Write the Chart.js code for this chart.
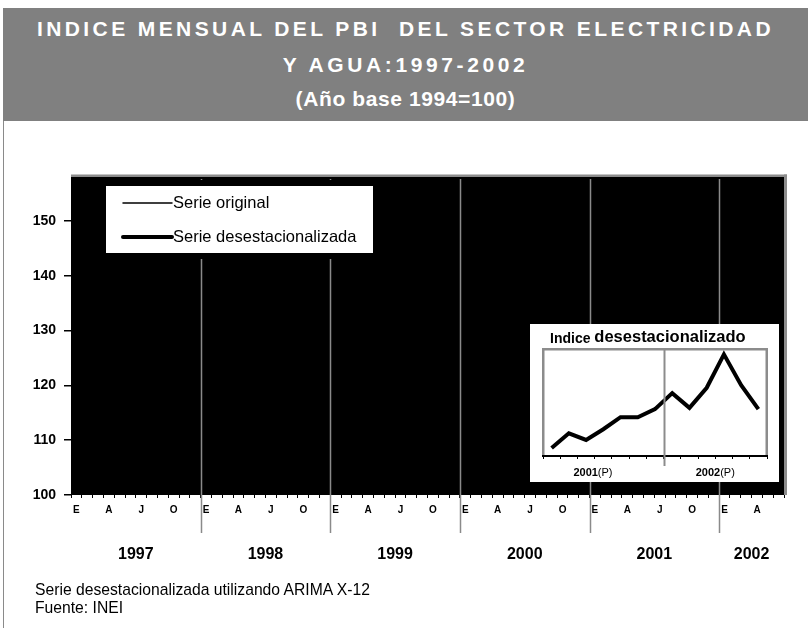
<!DOCTYPE html>
<html><head><meta charset="utf-8">
<script src="https://cdn.jsdelivr.net/npm/chart.js@4/dist/chart.umd.min.js"></script>
<style>
html,body{margin:0;padding:0;background:#fff;width:808px;height:628px;overflow:hidden;font-family:"Liberation Sans",Arial,sans-serif;}
#frame{position:absolute;left:3px;top:8px;width:830px;height:650px;border-left:1.5px solid #8a8a8a;border-top:1.5px solid #9a9a9a;box-sizing:border-box;}
#header{position:absolute;left:3px;top:8px;width:805px;height:113px;background:#808080;}
.t{position:absolute;left:0;width:100%;text-align:center;color:#fff;font-weight:bold;white-space:pre;font-size:21px;line-height:24px;}
#t1{top:9px;letter-spacing:3.4px;}
#t2{top:45px;letter-spacing:3.6px;}
#t3{top:79px;letter-spacing:0.6px;}
#main{position:absolute;left:0;top:0;}
#inset{position:absolute;left:530px;top:324px;background:#fff;}
.note{position:absolute;left:35px;font-size:15.7px;line-height:18px;color:#000;white-space:pre;}
</style></head>
<body>
<div id="frame"></div>
<div id="header">
  <div class="t" id="t1">INDICE MENSUAL DEL PBI  DEL SECTOR ELECTRICIDAD</div>
  <div class="t" id="t2">Y AGUA:1997-2002</div>
  <div class="t" id="t3">(Año base 1994=100)</div>
</div>
<canvas id="main" width="808" height="628"></canvas>
<canvas id="inset" width="249" height="158"></canvas>
<div class="note" style="top:581px">Serie desestacionalizada utilizando ARIMA X-12</div>
<div class="note" style="top:599px">Fuente: INEI</div>
<script>
// ---------- data ----------
const monthLetters = ['E','F','M','A','M','J','J','A','S','O','N','D'];
const yearLabels = ['1997','1998','1999','2000','2001','2002'];
const monthsInYear = [12,12,12,12,12,6];
const yMin = 100, yMax = 158, yStep = 10;
const seriesNames = ['Serie original','Serie desestacionalizada'];
// main-chart lines are black on a black plot area and cannot be read;
// only the deseasonalised tail shown in the inset is known
const serieOriginal = [];
const insetTitleSmall = 'Indice';
const insetTitleBig = 'desestacionalizado';
const insetMonths = ['J','J','A','S','O','N','D','E','F','M','A','M','J'];
const insetYears = ['2001','2002'];
const insetValues = [130.6,131.7,131.2,132.0,132.9,132.9,133.5,134.7,133.6,135.1,137.6,135.3,133.5];
const insetYMin = 130, insetYMax = 138;

// ---------- build ----------
const FAM = '"Liberation Sans", Arial, sans-serif';
const mainLabels = [];
const yearStarts = [];
yearLabels.forEach((y, k) => {
  yearStarts.push(mainLabels.length);
  for (let m = 0; m < monthsInYear[k]; m++) mainLabels.push(monthLetters[m] + ' ' + y);
});
const serieDesest = new Array(mainLabels.length - insetValues.length).fill(null).concat(insetValues);

const bgPlugin = {
  id: 'bg',
  beforeDraw(chart) {
    const {ctx, chartArea: {left, top, right, bottom}} = chart;
    ctx.save();
    ctx.fillStyle = '#000';
    ctx.fillRect(left, top, right - left, bottom - top);
    ctx.fillStyle = '#8c8c8c';
    ctx.fillRect(left, top - 2.5, right - left + 3, 2.5);
    ctx.fillRect(right, top - 2.5, 3, bottom - top + 2.5);
    ctx.restore();
  }
};

const overlayPlugin = {
  id: 'overlay',
  afterDraw(chart) {
    const {ctx, chartArea: {left, top, right, bottom}, scales: {x}} = chart;
    ctx.save();
    // year separators
    ctx.strokeStyle = '#8a8a8a';
    ctx.lineWidth = 1.5;
    yearStarts.forEach((s, k) => {
      if (k === 0) return;
      const px = Math.round(x.getPixelForValue(s - 0.5)) + 0.5;
      ctx.beginPath(); ctx.moveTo(px, top + 2); ctx.lineTo(px, bottom + 38); ctx.stroke();
    });
    // legend box
    const bx = left + 35, by = top + 9, bw = 267, bh = 67;
    ctx.fillStyle = '#000';
    ctx.fillRect(bx - 6, by - 6, bw + 12, bh + 12);
    ctx.fillStyle = '#fff';
    ctx.fillRect(bx, by, bw, bh);
    ctx.font = '16.5px ' + FAM;
    ctx.textBaseline = 'middle';
    ctx.textAlign = 'left';
    chart.data.datasets.forEach((ds, i) => {
      const ly = by + 17 + i * 34;
      ctx.strokeStyle = '#000';
      ctx.lineWidth = ds.borderWidth;
      ctx.lineCap = 'round';
      ctx.beginPath(); ctx.moveTo(bx + 17, ly); ctx.lineTo(bx + 66, ly); ctx.stroke();
      ctx.fillStyle = '#000';
      ctx.fillText(ds.label, bx + 67, ly);
    });
    // year labels
    ctx.font = 'bold 16px ' + FAM;
    ctx.textAlign = 'center';
    ctx.fillStyle = '#000';
    yearLabels.forEach((y, k) => {
      const c = yearStarts[k] + (monthsInYear[k] - 1) / 2;
      ctx.fillText(y, x.getPixelForValue(c), bottom + 60);
    });
    ctx.restore();
  }
};

new Chart(document.getElementById('main'), {
  type: 'line',
  data: {
    labels: mainLabels,
    datasets: [
      {label: seriesNames[0], data: serieOriginal, borderColor: '#000', borderWidth: 1.5, pointRadius: 0, tension: 0},
      {label: seriesNames[1], data: serieDesest, borderColor: '#000', borderWidth: 4, pointRadius: 0, tension: 0}
    ]
  },
  options: {
    responsive: false, animation: false, events: [],
    layout: {padding: {left: 0, top: 177, right: 24, bottom: 103}},
    plugins: {legend: {display: false}, tooltip: {enabled: false}, title: {display: false}},
    scales: {
      x: {
        offset: true,
        grid: {offset: true, drawOnChartArea: false, drawTicks: true, tickLength: 3, color: '#000', lineWidth: 1},
        border: {display: false},
        ticks: {autoSkip: false, maxRotation: 0, minRotation: 0, padding: 6, color: '#000',
          font: {size: 10, weight: 'bold', family: FAM},
          callback: (v, i) => (i % 3 === 0 ? monthLetters[i % 12] : '')},
        afterFit: s => { s.height = 30; }
      },
      y: {
        min: yMin, max: yMax,
        ticks: {stepSize: yStep, includeBounds: false, color: '#000', padding: 8, font: {size: 14, weight: 'bold', family: FAM}},
        grid: {drawOnChartArea: false, tickLength: 7, color: '#000', lineWidth: 1.5},
        border: {display: false},
        afterFit: s => { s.width = 71; }
      }
    }
  },
  plugins: [bgPlugin, overlayPlugin]
});

const insetPlugin = {
  id: 'insetDeco',
  beforeDraw(chart) {
    const {ctx, chartArea: {left, top, right, bottom}} = chart;
    ctx.save();
    ctx.fillStyle = '#8c8c8c';
    ctx.fillRect(left - 1, top - 1, right - left + 2, 2.5);
    ctx.fillRect(left - 1, top - 1, 2.5, bottom - top + 1);
    ctx.fillRect(right - 1.5, top - 1, 2.5, bottom - top + 1);
    ctx.restore();
  },
  afterDraw(chart) {
    const {ctx, chartArea: {left, top, right, bottom}, scales: {x}} = chart;
    ctx.save();
    const sx = Math.round(x.getPixelForValue(insetMonths.indexOf('D') + 0.5)) + 0.5;
    ctx.strokeStyle = '#8c8c8c';
    ctx.lineWidth = 2;
    ctx.beginPath(); ctx.moveTo(sx, top); ctx.lineTo(sx, bottom + 10); ctx.stroke();
    // title
    ctx.fillStyle = '#000';
    ctx.textBaseline = 'middle';
    ctx.textAlign = 'left';
    ctx.font = 'bold 14px ' + FAM;
    ctx.fillText(insetTitleSmall, left + 7, top - 10);
    const w1 = ctx.measureText(insetTitleSmall + ' ').width;
    ctx.font = 'bold 16.5px ' + FAM;
    ctx.fillText(insetTitleBig, left + 7 + w1, top - 12);
    // year labels
    const pos = [2.4, 9.5];
    const fs = 11;
    insetYears.forEach((y, k) => {
      ctx.font = 'bold ' + fs + 'px ' + FAM;
      const a = ctx.measureText(y).width;
      ctx.font = fs + 'px ' + FAM;
      const b = ctx.measureText('(P)').width;
      const cx = x.getPixelForValue(pos[k]);
      const sx0 = cx - (a + b) / 2;
      ctx.font = 'bold ' + fs + 'px ' + FAM;
      ctx.fillText(y, sx0, bottom + 17);
      ctx.font = fs + 'px ' + FAM;
      ctx.fillText('(P)', sx0 + a, bottom + 17);
    });
    ctx.restore();
  }
};

new Chart(document.getElementById('inset'), {
  type: 'line',
  data: {
    labels: insetMonths,
    datasets: [{label: insetTitleSmall + ' ' + insetTitleBig, data: insetValues, borderColor: '#000', borderWidth: 4, pointRadius: 0, tension: 0, borderJoinStyle: 'miter'}]
  },
  options: {
    responsive: false, animation: false, events: [],
    layout: {padding: {left: 13, top: 25, right: 12, bottom: 0}},
    plugins: {legend: {display: false}, tooltip: {enabled: false}},
    scales: {
      x: {
        offset: true,
        grid: {offset: true, drawOnChartArea: false, tickLength: 3, color: '#000', lineWidth: 1},
        border: {display: true, color: '#000', width: 2},
        ticks: {display: false},
        afterFit: s => { s.height = 26; }
      },
      y: {display: false, min: insetYMin, max: insetYMax}
    }
  },
  plugins: [insetPlugin]
});
</script>
</body></html>
